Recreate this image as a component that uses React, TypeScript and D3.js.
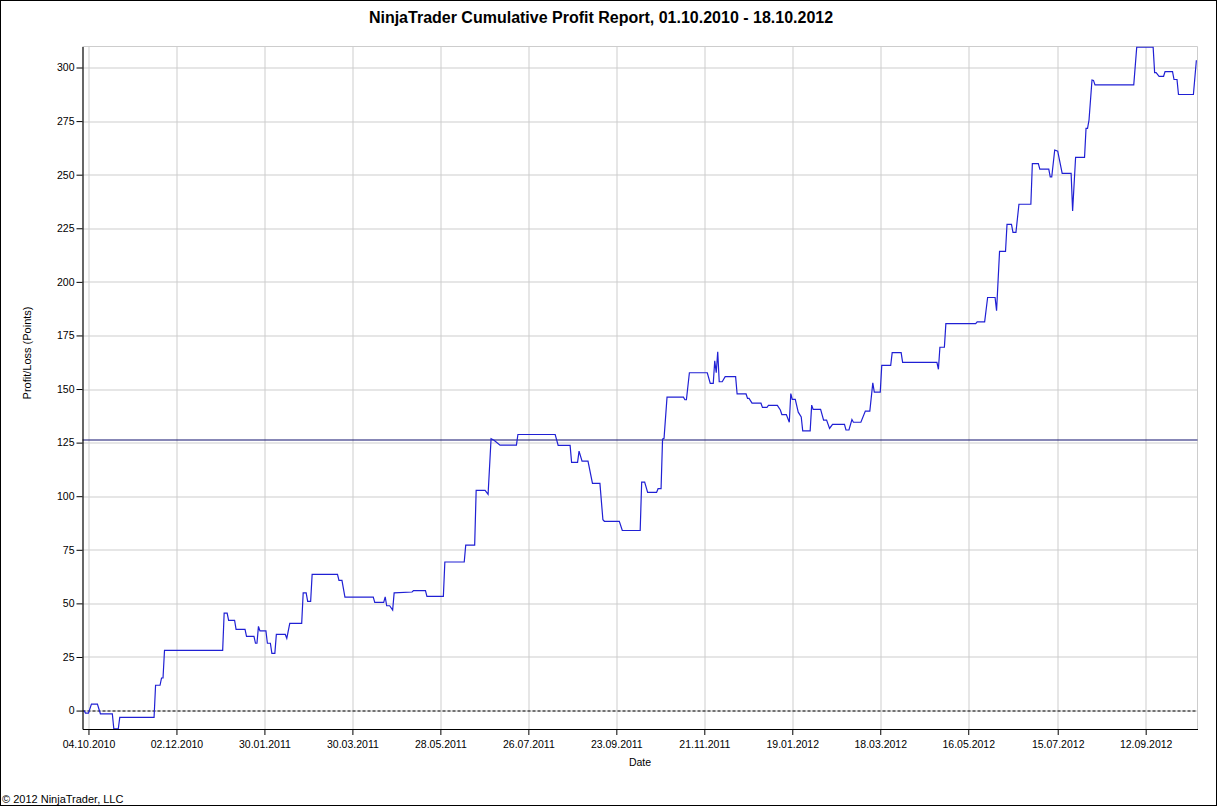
import React, { useEffect, useRef } from "react";
import * as d3 from "d3";

// trade close dates and cumulative profit (points)
const tradeDates: string[] = [
  "2010-10-01", "2010-10-02", "2010-10-04", "2010-10-06", "2010-10-10", "2010-10-12",
  "2010-10-20", "2010-10-21", "2010-10-24", "2010-10-25", "2010-11-17", "2010-11-18",
  "2010-11-21", "2010-11-22", "2010-11-23", "2010-11-24", "2011-01-02", "2011-01-03",
  "2011-01-05", "2011-01-06", "2011-01-10", "2011-01-11", "2011-01-17", "2011-01-18",
  "2011-01-23", "2011-01-24", "2011-01-25", "2011-01-26", "2011-01-27", "2011-01-31",
  "2011-02-01", "2011-02-03", "2011-02-04", "2011-02-06", "2011-02-07", "2011-02-13",
  "2011-02-14", "2011-02-16", "2011-02-24", "2011-02-25", "2011-02-27", "2011-02-28",
  "2011-03-02", "2011-03-03", "2011-03-20", "2011-03-21", "2011-03-23", "2011-03-25",
  "2011-04-13", "2011-04-14", "2011-04-20", "2011-04-21", "2011-04-22", "2011-04-24",
  "2011-04-26", "2011-04-27", "2011-05-09", "2011-05-10", "2011-05-18", "2011-05-19",
  "2011-05-30", "2011-05-31", "2011-06-13", "2011-06-14", "2011-06-20", "2011-06-21",
  "2011-06-27", "2011-06-29", "2011-07-01", "2011-07-03", "2011-07-07", "2011-07-18",
  "2011-07-19", "2011-08-13", "2011-08-15", "2011-08-23", "2011-08-24", "2011-08-28",
  "2011-08-29", "2011-08-31", "2011-09-04", "2011-09-07", "2011-09-12", "2011-09-14",
  "2011-09-15", "2011-09-25", "2011-09-27", "2011-10-09", "2011-10-10", "2011-10-12",
  "2011-10-14", "2011-10-20", "2011-10-21", "2011-10-23", "2011-10-24", "2011-10-25",
  "2011-10-27", "2011-11-07", "2011-11-08", "2011-11-09", "2011-11-11", "2011-11-23",
  "2011-11-25", "2011-11-27", "2011-11-28", "2011-11-29", "2011-11-30", "2011-12-01",
  "2011-12-03", "2011-12-05", "2011-12-12", "2011-12-13", "2011-12-19", "2011-12-20",
  "2011-12-21", "2011-12-23", "2011-12-29", "2011-12-30", "2012-01-02", "2012-01-03",
  "2012-01-09", "2012-01-11", "2012-01-12", "2012-01-15", "2012-01-17", "2012-01-18",
  "2012-01-19", "2012-01-21", "2012-01-23", "2012-01-25", "2012-01-26", "2012-01-31",
  "2012-02-01", "2012-02-02", "2012-02-07", "2012-02-09", "2012-02-11", "2012-02-13",
  "2012-02-15", "2012-02-23", "2012-02-24", "2012-02-26", "2012-02-28", "2012-02-29",
  "2012-03-05", "2012-03-08", "2012-03-11", "2012-03-13", "2012-03-14", "2012-03-18",
  "2012-03-19", "2012-03-25", "2012-03-26", "2012-04-01", "2012-04-02", "2012-04-25",
  "2012-04-26", "2012-04-27", "2012-04-30", "2012-05-01", "2012-05-21", "2012-05-22",
  "2012-05-27", "2012-05-29", "2012-06-03", "2012-06-04", "2012-06-06", "2012-06-10",
  "2012-06-11", "2012-06-14", "2012-06-15", "2012-06-17", "2012-06-19", "2012-06-27",
  "2012-06-28", "2012-07-02", "2012-07-03", "2012-07-09", "2012-07-10", "2012-07-11",
  "2012-07-13", "2012-07-15", "2012-07-18", "2012-07-24", "2012-07-25", "2012-07-27",
  "2012-08-02", "2012-08-03", "2012-08-04", "2012-08-05", "2012-08-07", "2012-08-08",
  "2012-08-09", "2012-09-04", "2012-09-06", "2012-09-17", "2012-09-18", "2012-09-19",
  "2012-09-21", "2012-09-24", "2012-09-25", "2012-09-30", "2012-10-01", "2012-10-03",
  "2012-10-04", "2012-10-14", "2012-10-16",
];

const cumProfit: number[] = [
  0, -1.2, -1.2, 3, 3, -1.5,
  -1.5, -8.5, -8.5, -3.2, -3.2, 11.8,
  11.8, 15.2, 15.2, 28.1, 28.1, 45.5,
  45.5, 42.1, 42.1, 37.9, 37.9, 34.6,
  34.6, 31.4, 31.4, 39.3, 37.2, 37.2,
  31.4, 31.4, 26.7, 26.7, 35.5, 35.5,
  33.7, 40.7, 40.7, 54.9, 54.9, 50.9,
  50.9, 63.5, 63.5, 60.7, 60.7, 52.9,
  52.9, 50.5, 50.5, 53, 48.9, 48.9,
  46.9, 54.9, 55.3, 56, 56, 53.3,
  53.3, 69.3, 69.3, 77.2, 77.2, 102.7,
  102.7, 100.9, 126.8, 126.1, 123.8, 123.8,
  128.8, 128.8, 123.7, 123.7, 115.8, 115.8,
  121, 116.4, 116.4, 106, 106, 89,
  88.3, 88.3, 84, 84, 106.6, 106.6,
  101.8, 101.8, 103.5, 103.5, 126.6, 127,
  146.2, 146.2, 145, 145, 157.6, 157.6,
  152.6, 152.6, 163.2, 157.6, 167.4, 153.4,
  153.4, 155.8, 155.8, 147.7, 147.7, 145.6,
  145.6, 143.4, 143.4, 141.4, 141.4, 142.4,
  142.4, 140.2, 138.1, 138.1, 134.5, 147.9,
  145.2, 145.2, 139.2, 137, 130.5, 130.5,
  142.5, 140.5, 140.5, 135.5, 135.5, 131.6,
  133.5, 133.5, 130.9, 130.9, 135.8, 134.5,
  134.5, 139.7, 139.7, 152.9, 148.6, 148.6,
  161, 161, 167, 167, 162.4, 162.4,
  159.2, 169.5, 169.5, 180.5, 180.5, 181.3,
  181.3, 192.7, 192.7, 186.5, 214.2, 214.2,
  226.8, 226.8, 223.1, 223.1, 236.2, 236.2,
  255.2, 255.2, 252.6, 252.6, 249, 249,
  261.5, 261, 250.6, 250.6, 233.1, 258.1,
  258.1, 271.6, 271.6, 275.5, 294.2, 294,
  291.9, 291.9, 309.5, 309.5, 297.6, 297.6,
  295.9, 295.9, 298.1, 298.1, 294.4, 294.4,
  287.4, 287.4, 303.4,
];

const averageProfit = 126.6;

const xTickLabels: string[] = [
  "04.10.2010", "02.12.2010", "30.01.2011", "30.03.2011", "28.05.2011", "26.07.2011",
  "23.09.2011", "21.11.2011", "19.01.2012", "18.03.2012", "16.05.2012", "15.07.2012",
  "12.09.2012",
];

const yTicks: number[] = [0, 25, 50, 75, 100, 125, 150, 175, 200, 225, 250, 275, 300];

const W = 1217;
const H = 806;
const FONT = "'Liberation Sans', Arial, sans-serif";

const App: React.FC = () => {
  const svgRef = useRef<SVGSVGElement | null>(null);

  useEffect(() => {
    const svg = d3.select(svgRef.current);
    svg.selectAll("*").remove();

    const margin = { top: 46.5, right: 19.5, bottom: 77, left: 82.5 };
    const width = W - margin.left - margin.right;
    const height = H - margin.top - margin.bottom;

    const parseIso = d3.timeParse("%Y-%m-%d");
    const parseTick = d3.timeParse("%d.%m.%Y");

    const points = tradeDates.map((d, i) => ({ date: parseIso(d)!, value: cumProfit[i] }));

    const x = d3
      .scaleTime()
      .domain([new Date(2010, 8, 30), new Date(2012, 9, 16, 18)])
      .range([0, width]);

    const y = d3.scaleLinear().domain([-8.6, 309.8]).range([height, 0]);

    svg
      .append("rect")
      .attr("x", 0.5)
      .attr("y", 0.5)
      .attr("width", W - 1)
      .attr("height", H - 1)
      .attr("fill", "#fff")
      .attr("stroke", "#000");

    const g = svg.append("g").attr("transform", `translate(${margin.left},${margin.top})`);

    const tickDates = xTickLabels.map((t) => parseTick(t)!);

    // grid
    g.append("g")
      .selectAll("line")
      .data(tickDates)
      .enter()
      .append("line")
      .attr("x1", (d) => Math.round(x(d)) + 0.5)
      .attr("x2", (d) => Math.round(x(d)) + 0.5)
      .attr("y1", 0)
      .attr("y2", height)
      .attr("stroke", "#cdcdcd");

    g.append("g")
      .selectAll("line")
      .data(yTicks)
      .enter()
      .append("line")
      .attr("x1", 0)
      .attr("x2", width)
      .attr("y1", (d) => Math.round(y(d)) + 0.5)
      .attr("y2", (d) => Math.round(y(d)) + 0.5)
      .attr("stroke", "#cdcdcd");

    // plot border top / right
    g.append("path")
      .attr("d", `M0,0H${width}V${height}`)
      .attr("fill", "none")
      .attr("stroke", "#cdcdcd");

    // zero line
    g.append("line")
      .attr("x1", 0)
      .attr("x2", width)
      .attr("y1", Math.round(y(0)) + 0.5)
      .attr("y2", Math.round(y(0)) + 0.5)
      .attr("stroke", "#000")
      .attr("stroke-dasharray", "3,2");

    // average line
    g.append("line")
      .attr("x1", 0)
      .attr("x2", width)
      .attr("y1", Math.round(y(averageProfit)) + 0.5)
      .attr("y2", Math.round(y(averageProfit)) + 0.5)
      .attr("stroke", "#10106e")
      .attr("stroke-width", 1.2);

    svg
      .append("clipPath")
      .attr("id", "plot-clip")
      .append("rect")
      .attr("width", width)
      .attr("height", height);

    const line = d3
      .line<{ date: Date; value: number }>()
      .x((d) => x(d.date))
      .y((d) => y(d.value));

    g.append("path")
      .datum(points)
      .attr("clip-path", "url(#plot-clip)")
      .attr("d", line)
      .attr("fill", "none")
      .attr("stroke", "#2020d4")
      .attr("stroke-width", 1.2);

    // axes
    const xAxis = d3
      .axisBottom(x)
      .tickValues(tickDates)
      .tickSize(6)
      .tickSizeOuter(0)
      .tickFormat((_, i) => xTickLabels[i]);

    const yAxis = d3
      .axisLeft(y)
      .tickValues(yTicks)
      .tickSize(6)
      .tickSizeOuter(0)
      .tickFormat(d3.format("d"));

    const xAxisGroup = g
      .append("g")
      .attr("transform", `translate(0,${height})`)
      .call(xAxis as any);

    const yAxisGroup = g.append("g").call(yAxis as any);

    [xAxisGroup, yAxisGroup].forEach((ax) => {
      ax.select(".domain").attr("stroke", "#000").attr("stroke-width", 1.2);
      ax.selectAll(".tick line").attr("stroke", "#000");
      ax.selectAll(".tick text")
        .style("font-family", FONT)
        .style("font-size", "10.5px")
        .attr("fill", "#000");
    });

    xAxisGroup.selectAll(".tick text").attr("dy", "0.95em");
    yAxisGroup.selectAll(".tick text").attr("x", -8);

    // titles
    svg
      .append("text")
      .attr("x", 601)
      .attr("y", 23)
      .attr("text-anchor", "middle")
      .style("font-family", FONT)
      .style("font-size", "16px")
      .style("font-weight", "bold")
      .text("NinjaTrader Cumulative Profit Report, 01.10.2010 - 18.10.2012");

    svg
      .append("text")
      .attr("x", margin.left + width / 2)
      .attr("y", 766)
      .attr("text-anchor", "middle")
      .style("font-family", FONT)
      .style("font-size", "10.5px")
      .text("Date");

    svg
      .append("text")
      .attr("transform", "translate(31,353) rotate(-90)")
      .attr("text-anchor", "middle")
      .style("font-family", FONT)
      .style("font-size", "11px")
      .text("Profit/Loss (Points)");

    svg
      .append("text")
      .attr("x", 2)
      .attr("y", 803)
      .style("font-family", FONT)
      .style("font-size", "11px")
      .text("© 2012 NinjaTrader, LLC");
  }, []);

  return (
    <svg
      ref={svgRef}
      width={W}
      height={H}
      style={{ position: "absolute", left: 0, top: 0, display: "block" }}
    />
  );
};

export default App;
